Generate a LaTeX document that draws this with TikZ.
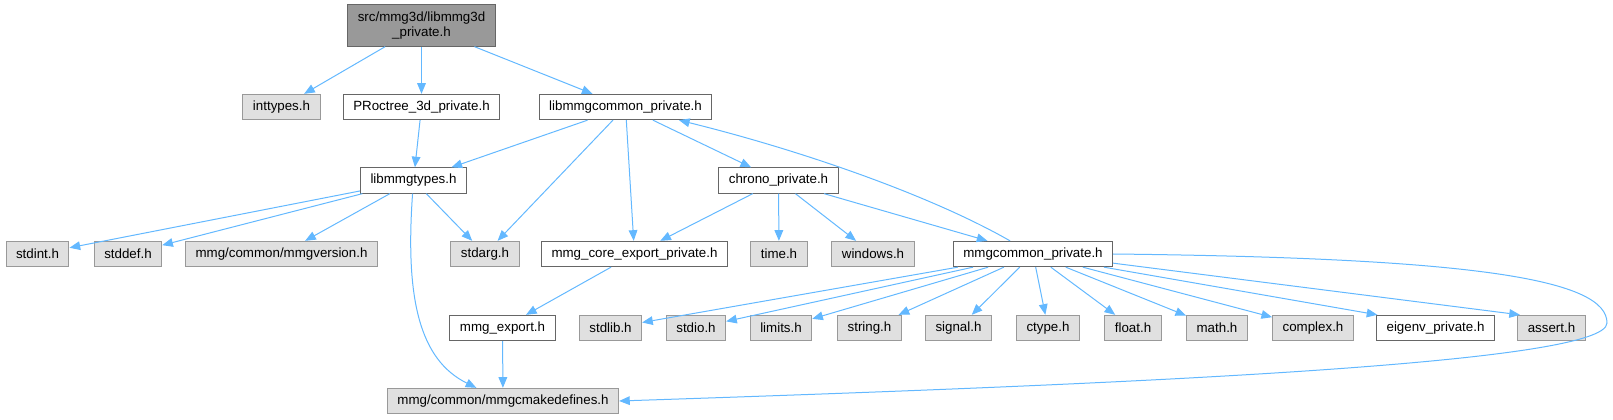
\documentclass[tikz,border=0pt]{standalone}
\usepackage{fontspec}
\setmainfont{Liberation Sans}
\usetikzlibrary{arrows.meta}
\definecolor{edgeblue}{RGB}{99,184,255}
\definecolor{sysfill}{RGB}{224,224,224}
\definecolor{sysline}{RGB}{153,153,153}
\definecolor{fileline}{RGB}{102,102,102}
\definecolor{rootfill}{RGB}{153,153,153}

\begin{document}
\begin{tikzpicture}[x=0.75pt, y=-0.75pt,
  every node/.style={font=\fontsize{10}{11}\selectfont, inner xsep=7.5pt, inner ysep=0pt, minimum height=19pt, line width=0.75pt},
  sysbox/.style={draw=sysline, fill=sysfill},
  filebox/.style={draw=fileline, fill=white},
  dep/.style={draw=edgeblue, line width=0.75pt, -{Triangle[length=8pt,width=6.5pt]}}]
\useasboundingbox (0,0) rectangle (1613,420);
% top
\node[draw=fileline, fill=rootfill, align=center, minimum height=31pt] (root) at (421.5,25.5) {src/mmg3d/libmmg3d\\\_private.h};
\node[sysbox] (inttypes) at (281.5,107) {inttypes.h};
\node[filebox] (octree) at (421.5,107) {PRoctree\_3d\_private.h};
\node[filebox] (libcommon) at (625.5,107) {libmmgcommon\_private.h};
\node[filebox] (types) at (413.5,180.5) {libmmgtypes.h};
\node[filebox] (chrono) at (778.5,180.5) {chrono\_private.h};
% middle row
\node[sysbox] (stdint) at (37.5,254) {stdint.h};
\node[sysbox] (stddef) at (128,254) {stddef.h};
\node[sysbox] (version) at (281.5,254) {mmg/common/mmgversion.h};
\node[sysbox] (stdarg) at (485,254) {stdarg.h};
\node[filebox] (coreexport) at (634.5,254) {mmg\_core\_export\_private.h};
\node[sysbox] (time) at (779,254) {time.h};
\node[sysbox] (windows) at (873,254) {windows.h};
\node[filebox] (mmgcommon) at (1033,254) {mmgcommon\_private.h};
% bottom rows
\node[filebox] (mmgexport) at (502.5,328) {mmg\_export.h};
\node[sysbox] (stdlib) at (610.5,328) {stdlib.h};
\node[sysbox] (stdio) at (696,328) {stdio.h};
\node[sysbox] (limits) at (781,328) {limits.h};
\node[sysbox] (string) at (869.5,328) {string.h};
\node[sysbox] (signal) at (958.5,328) {signal.h};
\node[sysbox] (ctype) at (1048,328) {ctype.h};
\node[sysbox] (float) at (1133,328) {float.h};
\node[sysbox] (math) at (1217,328) {math.h};
\node[sysbox] (complex) at (1313,328) {complex.h};
\node[filebox] (eigenv) at (1435.5,328) {eigenv\_private.h};
\node[sysbox] (assert) at (1551.5,328) {assert.h};
\node[sysbox] (cmake) at (503,401) {mmg/common/mmgcmakedefines.h};

\draw[dep] (root) -- (inttypes);
\draw[dep] (root) -- (octree);
\draw[dep] (root) -- (libcommon);
\draw[dep] (octree) -- (types);
\draw[dep] (libcommon) -- (types);
\draw[dep] (libcommon) -- (stdarg);
\draw[dep] (libcommon) -- (coreexport);
\draw[dep] (libcommon) -- (chrono);
\foreach \t in {stdint, stddef, version, stdarg}
  \draw[dep] (types) -- (\t);
\draw[dep] (types) .. controls (405,300) and (420,360) .. (cmake);
\foreach \t in {coreexport, time, windows, mmgcommon}
  \draw[dep] (chrono) -- (\t);
\draw[dep] (mmgcommon) .. controls (930,195) and (800,150) .. (libcommon);
\draw[dep] (coreexport) -- (mmgexport);
\draw[dep] (mmgexport) -- (cmake);
\foreach \t in {stdlib, stdio, limits, string, signal, ctype, float, math, complex}
  \draw[dep] (mmgcommon) -- (\t);
\draw[dep] ([xshift=-7pt]mmgcommon.south east) -- ([xshift=1pt]eigenv.north west);
\draw[dep] ([yshift=3pt]mmgcommon.south east) -- ([xshift=2pt]assert.north west);
% long way round to the defines header
\draw[dep] (mmgcommon.east) .. controls (1480,258) and (1607,280) .. (1607,323)
  .. controls (1607,365) and (1100,385) .. (cmake.east);
\end{tikzpicture}
\end{document}
